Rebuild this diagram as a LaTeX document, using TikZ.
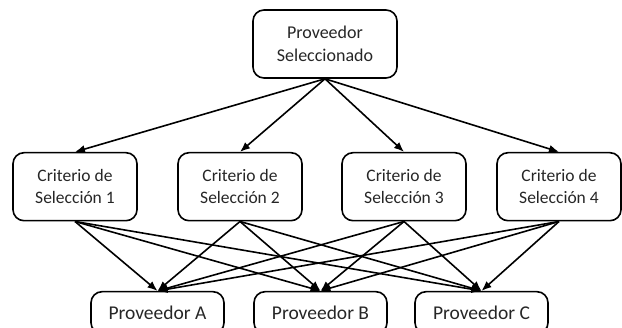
\documentclass[tikz,border=0pt]{standalone}
\usepackage{fontspec}
\setmainfont{Carlito}
\usetikzlibrary{positioning,arrows.meta}

\tikzset{
 box/.style={draw, line width=1.6pt, rounded corners=11pt, align=center, inner sep=0pt,
  font=\fontsize{17.5}{22}\selectfont, text=black!85},
 topbox/.style={box, minimum width=144pt, minimum height=68pt, font=\fontsize{18}{23}\selectfont},
 critbox/.style={box, minimum width=124pt, minimum height=68pt},
 provbox/.style={box, minimum width=133pt, minimum height=42pt, font=\fontsize{19.5}{23}\selectfont},
 link/.style={-{Latex[length=10pt,width=8pt]}, line width=1.6pt}
}

\begin{document}
\begin{tikzpicture}[x=1pt,y=1pt]

\useasboundingbox (0,0) rectangle (622,328);

%Goal
\node (goal) [topbox] at (325,284) {Proveedor\\Seleccionado};

%Criteria
\node (crit1) [critbox] at (75,141.3) {Criterio de\\Selección 1};
\node (crit2) [critbox] at (240,141.3) {Criterio de\\Selección 2};
\node (crit3) [critbox] at (404,141.3) {Criterio de\\Selección 3};
\node (crit4) [critbox] at (559,141.3) {Criterio de\\Selección 4};

%Alternatives
\node (provA) [provbox] at (157.5,15.3) {Proveedor A};
\node (provB) [provbox] at (320.5,15.3) {Proveedor B};
\node (provC) [provbox] at (481.5,15.3) {Proveedor C};

%Arrows from goal to criteria
\foreach \c in {1,2,3,4}
\draw[link] (goal.south) -- (crit\c.north);

%Arrows from every criterion to every supplier
\foreach \c in {1,2,3,4}
\foreach \p in {A,B,C}
\draw[link] (crit\c.south) -- (prov\p.north);

\end{tikzpicture}
\end{document}
